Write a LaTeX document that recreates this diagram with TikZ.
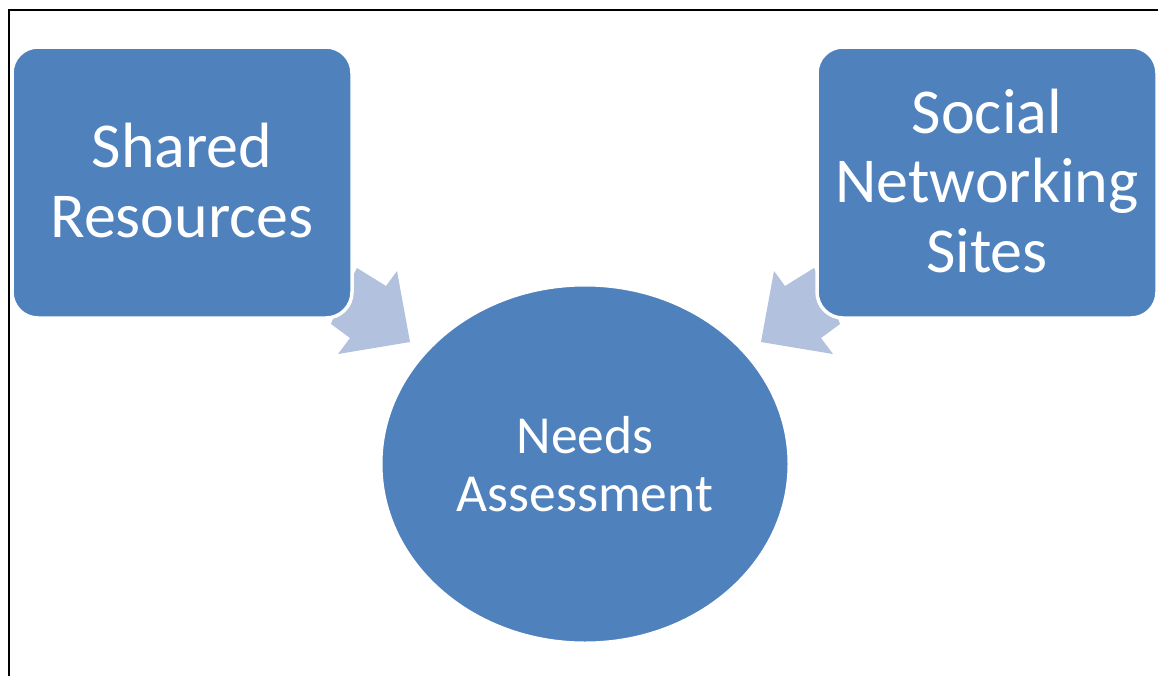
\documentclass[tikz,border=0pt]{standalone}
\usepackage{fontspec}
\setmainfont{Carlito}
\usetikzlibrary{shapes.geometric}
\definecolor{boxblue}{HTML}{4F81BD}
\definecolor{arrowblue}{HTML}{B1C1DE}
\tikzset{
  topbox/.style={rectangle, rounded corners=26pt, fill=boxblue, draw=white,
    line width=3.5pt, minimum width=340pt, minimum height=271pt, inner sep=0pt,
    text depth=4pt, text=white, align=center,
    font=\fontsize{64}{69.5}\selectfont},
  hub/.style={ellipse, fill=boxblue, draw=white, line width=3pt,
    minimum width=408pt, minimum height=358pt, inner sep=0pt,
    text=white, align=center, font=\fontsize{53.5}{58}\selectfont},
  feed/.style={fill=arrowblue}
}
\begin{document}
\begin{tikzpicture}[x=1pt,y=-1pt]
  \useasboundingbox (0,0) rectangle (1158,675);
  % page frame, running off the right and bottom edges
  \draw[line width=2pt] (8.5,676) -- (8.5,10) -- (1159,10);

  % block arrows converging on the hub (drawn first, partly under the boxes)
  \fill[feed] (357,268) -- (386,286) -- (397,271) -- (410,342) -- (338,354)
    -- (350,338) -- (331,324) -- (340,300) -- cycle;
  \fill[feed] (814,268) -- (785,286) -- (774,271) -- (761,342) -- (833,354)
    -- (821,338) -- (840,324) -- (831,300) -- cycle;

  \node[topbox] (shared) at (182,182.5) {Shared\\Resources};
  \node[topbox] (social) at (987,182.5) {Social\\Networking\\Sites};
  \node[hub] (needs) at (585,464) {Needs\\Assessment};
\end{tikzpicture}
\end{document}
